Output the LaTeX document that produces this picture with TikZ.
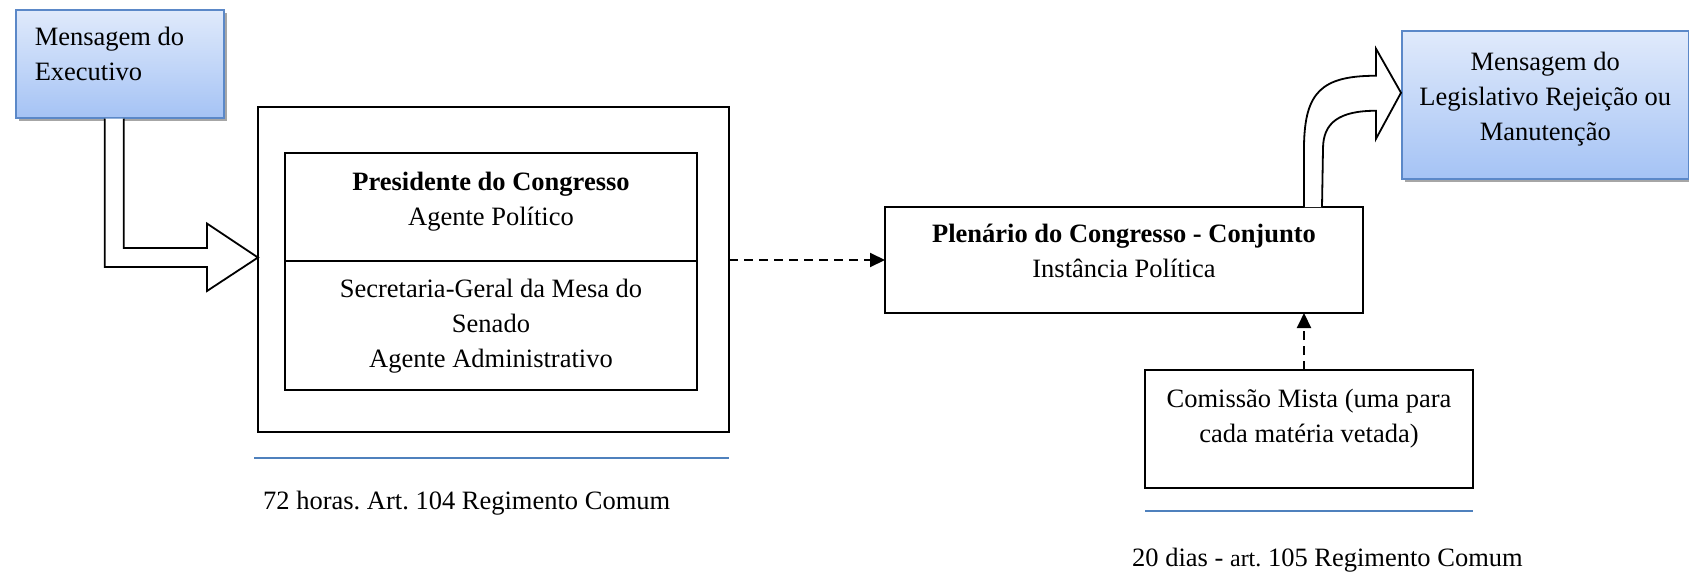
\documentclass[tikz,border=0pt]{standalone}
\usepackage{fontspec}
\setmainfont{Liberation Serif}
\usetikzlibrary{calc,shadows,arrows.meta}
\definecolor{bordaazul}{HTML}{5B88C8}
\definecolor{azulclaro}{HTML}{E0EAFB}
\definecolor{azulescuro}{HTML}{A5C3F5}
\definecolor{linhaazul}{HTML}{4F81BD}
\frenchspacing
\begin{document}
\begin{tikzpicture}[x=1pt,y=-1pt,line join=miter,
        font=\fontsize{26.5}{35}\selectfont,
        caixa/.style={draw,line width=2pt,inner sep=2pt,outer sep=0pt},
        caixaazul/.style={draw=bordaazul,line width=1.5pt,top color=azulclaro,bottom color=azulescuro,
            drop shadow={shadow xshift=3pt,shadow yshift=-3pt,fill=black!35,opacity=1}},
        seta/.style={draw,fill=white,line width=1.8pt},
        tracejada/.style={line width=2pt,dash pattern=on 9pt off 6pt,-{Triangle[length=15pt,width=14pt]}},
        prazo/.style={draw=linhaazul,line width=2pt}]
    \useasboundingbox (0,0) rectangle (1689,573);
    % caixas
    \node[caixaazul,anchor=north west,minimum width=208pt,minimum height=108pt,text width=170pt,align=flush left,inner xsep=19pt,text depth=55pt] (exec) at (15,9) {Mensagem do\\Executivo};
    \node[caixa,anchor=north west,minimum width=471pt,minimum height=325pt] (congresso) at (258,107) {};
    \node[caixa,anchor=north west,minimum width=412pt,minimum height=108pt,align=center,text depth=16pt] (presid) at (285,153) {\textbf{Presidente do Congresso}\\Agente Político};
    \node[caixa,anchor=north,minimum width=412pt,minimum height=129pt,align=center,text depth=4pt] (secret) at (presid.south) {Secretaria-Geral da Mesa do\\Senado\\Agente Administrativo};
    \node[caixa,anchor=north west,minimum width=478pt,minimum height=106pt,align=center,text depth=18pt] (plenario) at (885,207) {\textbf{Plenário do Congresso - Conjunto}\\Instância Política};
    \node[caixa,anchor=north west,minimum width=328pt,minimum height=118pt,align=center,text depth=27pt] (comissao) at (1145,370) {Comissão Mista (uma para\\cada matéria vetada)};
    \node[caixaazul,anchor=north west,minimum width=287pt,minimum height=148pt,align=center,text depth=17pt] (legis) at (1401,30) {Mensagem do\\Legislativo Rejeição ou\\Manutenção};
    % setas largas
    \coordinate (pontaE) at ($(congresso.west)+(0,-12)$);
    \draw[seta] ($(exec.south)+(-15,0)$) |- ($(pontaE)+(-51,9.5)$) -- ++(0,24) -- (pontaE) -- ($(pontaE)+(-51,-34)$) -- ++(0,24.5) -| ($(exec.south)+(4,0)$);
    \coordinate (pontaL) at ($(legis.west)+(0,-12)$);
    \draw[seta] ($(plenario.north east)+(-59,0)$) -- ++(0,-62) .. controls ($(pontaL)+(-96,0)$) and ($(pontaL)+(-80,-17)$) .. ($(pontaL)+(-25,-17)$) -- ++(0,-27) -- (pontaL) -- ($(pontaL)+(-25,46)$) -- ++(0,-28) .. controls ($(pontaL)+(-62,18)$) and ($(pontaL)+(-78,30)$) .. ($(pontaL)+(-78,56)$) -- ($(plenario.north east)+(-41,0)$);
    % setas tracejadas
    \draw[tracejada] (congresso.east |- plenario.west) -- (plenario.west);
    \coordinate (baseC) at ($(comissao.north)+(-5,0)$);
    \draw[tracejada] (baseC) -- (baseC |- plenario.south);
    % prazos
    \draw[prazo] ($(congresso.south west)+(-4,26)$) -- ($(congresso.south east)+(0,26)$);
    \draw[prazo] ($(comissao.south west)+(0,23)$) -- ($(comissao.south east)+(0,23)$);
    \node[anchor=west,inner sep=0pt] (prazoA) at ($(congresso.south west)+(5,71)$) {72 horas. Art. 104 Regimento Comum};
    \node[anchor=west,inner sep=0pt] (prazoB) at ($(comissao.south west)+(-13,72)$) {20 dias - {\fontsize{24}{28}\selectfont art.} 105 Regimento Comum};
\end{tikzpicture}
\end{document}
